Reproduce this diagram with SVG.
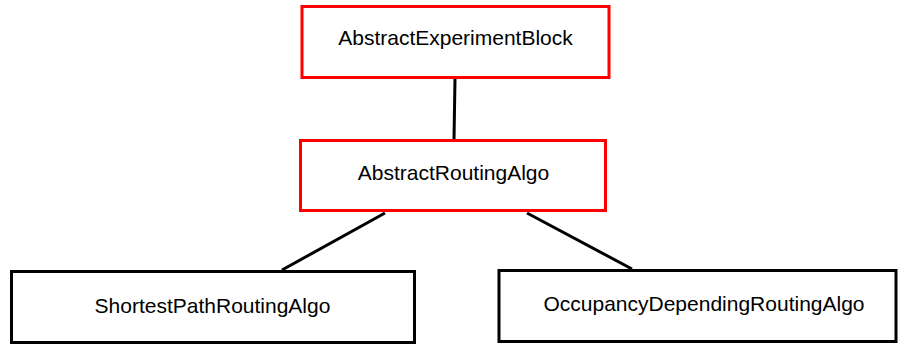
<svg xmlns="http://www.w3.org/2000/svg" width="899" height="345" viewBox="0 0 899 345">
<style>
.box{fill:#fff;stroke-width:3}
.red{stroke:#f00}
.blk{stroke:#000}
.lbl{font-family:"Liberation Sans",Arial,sans-serif;font-size:21px;fill:#000;text-anchor:middle}
.edge{stroke:#000;stroke-width:3;fill:none}
</style>
<rect width="899" height="345" fill="#fff"/>
<g id="connectors">
<line class="edge" x1="455" y1="79" x2="454" y2="139"/>
<line class="edge" x1="385" y1="213" x2="282" y2="270"/>
<line class="edge" x1="527" y1="213" x2="632" y2="269"/>
</g>
<g id="AbstractExperimentBlock">
<rect class="box red" x="302" y="6.5" width="307" height="71"/>
<text class="lbl" x="455.5" y="45">AbstractExperimentBlock</text>
</g>
<g id="AbstractRoutingAlgo">
<rect class="box red" x="300.5" y="140.5" width="305" height="70"/>
<text class="lbl" x="453.5" y="180">AbstractRoutingAlgo</text>
</g>
<g id="ShortestPathRoutingAlgo">
<rect class="box blk" x="11.5" y="271.5" width="403" height="71"/>
<text class="lbl" x="212.5" y="313">ShortestPathRoutingAlgo</text>
</g>
<g id="OccupancyDependingRoutingAlgo">
<rect class="box blk" x="499" y="270.5" width="397" height="71"/>
<text class="lbl" x="704" y="311">OccupancyDependingRoutingAlgo</text>
</g>
</svg>
